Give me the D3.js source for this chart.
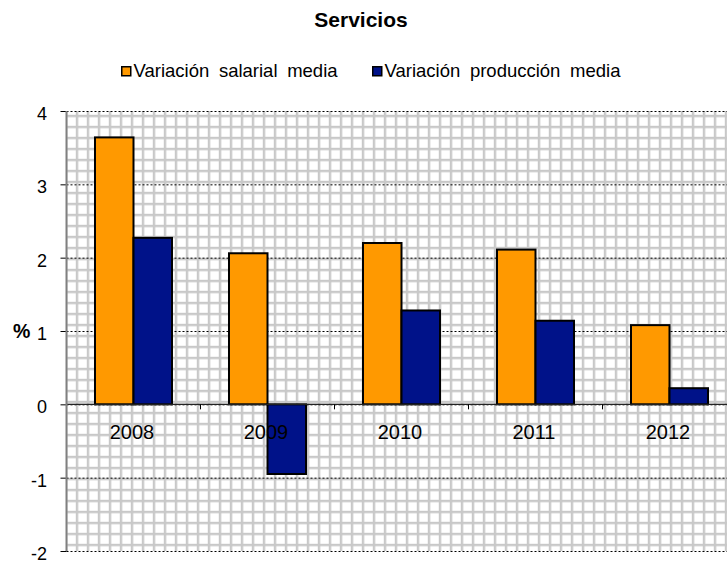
<!DOCTYPE html>
<html>
<head>
<meta charset="utf-8">
<script src="https://cdn.jsdelivr.net/npm/d3@7"></script>
<style>
  html, body { margin: 0; padding: 0; background: #fff; }
  svg { display: block; font-family: "Liberation Sans", Arial, sans-serif; }
</style>
</head>
<body>
<svg id="chart" width="727" height="564"></svg>
<script>
// Yearly change (%) in the services sector
const years = ["2008", "2009", "2010", "2011", "2012"];
const seriesNames = ["Variación salarial media", "Variación producción media"];
const salarial = [3.64, 2.06, 2.20, 2.11, 1.08];
const produccion = [2.27, -0.95, 1.28, 1.14, 0.22];
const yTicks = [-2, -1, 0, 1, 2, 3, 4];
const colors = ["#ff9900", "#001289"];

const svg = d3.select("#chart");
const W = 727, H = 564;
const plot = { left: 66.5, top: 111, width: 670, height: 440 };

svg.append("rect").attr("width", W).attr("height", H).attr("fill", "#fff");

// Hatched grid fill of the plot area
const defs = svg.append("defs");
const pat = defs.append("pattern")
  .attr("id", "grid")
  .attr("patternUnits", "userSpaceOnUse")
  .attr("x", 75.8).attr("y", 114.8)
  .attr("width", 11).attr("height", 11);
pat.append("rect").attr("width", 11).attr("height", 11).attr("fill", "#ffffff");
pat.append("rect").attr("width", 2.4).attr("height", 11).attr("fill", "#c8c8c8");
pat.append("rect").attr("width", 11).attr("height", 2.4).attr("fill", "#c8c8c8");

const x0 = d3.scaleBand()
  .domain(years)
  .range([plot.left, plot.left + plot.width])
  .padding(0);
const x1 = d3.scaleBand()
  .domain(seriesNames)
  .range([0, x0.bandwidth()])
  .paddingInner(0)
  .paddingOuter(0.74);
const y = d3.scaleLinear()
  .domain([-2, 4])
  .range([plot.top + plot.height, plot.top]);

svg.append("rect")
  .attr("x", plot.left).attr("y", plot.top)
  .attr("width", plot.width).attr("height", plot.height)
  .attr("fill", "url(#grid)");

// Dashed horizontal gridlines with short ticks on the left
const yAxis = svg.append("g")
  .attr("transform", `translate(${plot.left},0)`)
  .call(d3.axisLeft(y).tickValues(yTicks).tickSize(6).tickFormat(d => String(d)));
yAxis.select(".domain").remove();
yAxis.selectAll(".tick line").attr("stroke", "#000").attr("stroke-width", 1);
yAxis.selectAll(".tick text")
  .attr("x", -19.5)
  .attr("dy", "8.5")
  .attr("font-size", 18)
  .attr("font-family", "Liberation Sans, Arial, sans-serif")
  .attr("fill", "#000");
yAxis.selectAll(".tick").append("line")
  .attr("x1", 0).attr("x2", plot.width)
  .attr("stroke", "#000").attr("stroke-width", 1)
  .attr("stroke-dasharray", "2,2");

// Bars
const data = years.map((yr, i) => ({ year: yr, values: [salarial[i], produccion[i]] }));
const groups = svg.append("g").selectAll("g")
  .data(data).join("g")
  .attr("transform", d => `translate(${x0(d.year)},0)`);
groups.selectAll("rect")
  .data(d => d.values.map((v, j) => ({ key: seriesNames[j], v, j })))
  .join("rect")
  .attr("x", d => x1(d.key))
  .attr("width", x1.bandwidth())
  .attr("y", d => y(Math.max(0, d.v)))
  .attr("height", d => Math.abs(y(d.v) - y(0)))
  .attr("fill", d => colors[d.j])
  .attr("stroke", "#000")
  .attr("stroke-width", 2);

// Category axis along zero
const xAxisY = y(0);
svg.append("line")
  .attr("x1", plot.left).attr("x2", plot.left + plot.width)
  .attr("y1", xAxisY).attr("y2", xAxisY)
  .attr("stroke", "#222").attr("stroke-width", 1.3);
svg.append("g").selectAll("line")
  .data(years.slice(1))
  .join("line")
  .attr("x1", d => x0(d)).attr("x2", d => x0(d))
  .attr("y1", xAxisY).attr("y2", xAxisY + 5)
  .attr("stroke", "#000").attr("stroke-width", 1);
svg.append("g").selectAll("text")
  .data(years)
  .join("text")
  .attr("x", d => x0(d) + x0.bandwidth() / 2 - 1.5)
  .attr("y", xAxisY + 35)
  .attr("text-anchor", "middle")
  .attr("font-size", 20)
  .attr("fill", "#000")
  .text(d => d);

// Value axis line
svg.append("line")
  .attr("x1", plot.left).attr("x2", plot.left)
  .attr("y1", plot.top).attr("y2", plot.top + plot.height)
  .attr("stroke", "#808080").attr("stroke-width", 2);

// Axis unit
svg.append("text")
  .attr("x", 13).attr("y", y(1) + 6.5)
  .attr("font-size", 19.5).attr("font-weight", "bold")
  .attr("fill", "#000")
  .text("%");

// Title
svg.append("text")
  .attr("x", 361).attr("y", 27)
  .attr("text-anchor", "middle")
  .attr("font-size", 21).attr("font-weight", "bold")
  .attr("fill", "#000")
  .text("Servicios");

// Legend
const legendX = [121, 372];
const legend = svg.append("g").selectAll("g")
  .data(seriesNames).join("g")
  .attr("transform", (d, i) => `translate(${legendX[i]},66)`);
legend.append("rect")
  .attr("x", 0.75).attr("y", 0.75)
  .attr("width", 9).attr("height", 9)
  .attr("fill", (d, i) => colors[i])
  .attr("stroke", "#000").attr("stroke-width", 1.5);
legend.append("text")
  .attr("x", 12.5).attr("y", 11)
  .attr("font-size", 18.5)
  .attr("word-spacing", 4.5)
  .attr("fill", "#000")
  .text(d => d);
</script>
</body>
</html>
